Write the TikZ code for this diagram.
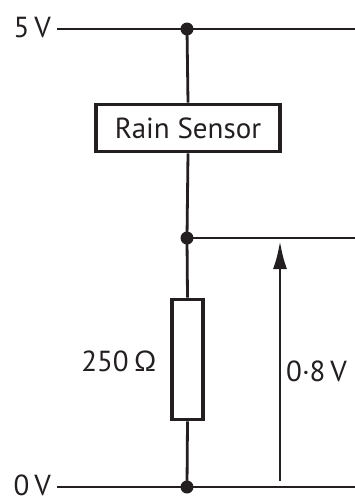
\documentclass[tikz,border=0pt]{standalone}
\usepackage{fontspec}
\setmainfont{PT Sans}
\usetikzlibrary{arrows.meta}

\begin{document}
\begin{tikzpicture}[x=1pt,y=-1pt,
  wire/.style={line width=2.8pt,draw=ink},
  part/.style={draw=ink,line width=3.8pt,inner sep=0pt},
  dot/.style={circle,fill=ink,inner sep=0pt,minimum size=13pt},
  lbl/.style={inner sep=0pt,text=ink,font=\fontsize{29}{34}\selectfont}]
\definecolor{ink}{HTML}{231F20}
\useasboundingbox (0,0) rectangle (355,499);
% rails and junctions
\coordinate (vccL) at (57,29);
\coordinate (vccR) at (355,29);
\coordinate (gndL) at (57,487);
\coordinate (gndR) at (355,487);
\coordinate (outR) at (355,238);
\node [dot] (jtop) at (187,29) {};
\node [dot] (jmid) at (187,238) {};
\node [dot] (jbot) at (187,487) {};
% parts
\node [part,lbl,minimum width=184pt,minimum height=47pt] (sensor) at (188,128) {Rain Sensor};
\node [part,minimum width=31pt,minimum height=120pt] (res) at (187.5,359.5) {};
% labels
\node [lbl,anchor=east] (vcclbl) at (51,28) {5\,V};
\node [lbl,anchor=east] (gndlbl) at (51,485) {0\,V};
\node [lbl,anchor=east] (reslbl) at (157,361) {250\,Ω};
\node [lbl,anchor=west] (outlbl) at (286,371) {0·8\,V};
% wires
\draw [wire] (vccL) -- (vccR);
\draw [wire] (gndL) -- (gndR);
\draw [wire] (jmid.center) -- (outR);
\draw [wire] (jtop.center) -- (sensor.north);
\draw [wire] (sensor.south) -- (jmid.center);
\draw [wire] (jmid.center) -- (res.north);
\draw [wire] (res.south) -- (jbot.center);
% output voltage arrow
\coordinate (afoot) at (280,481);
\coordinate (atip) at (280,241);
\draw [wire,-{Latex[length=28pt,width=14pt]}] (afoot) -- (atip);
\end{tikzpicture}
\end{document}
